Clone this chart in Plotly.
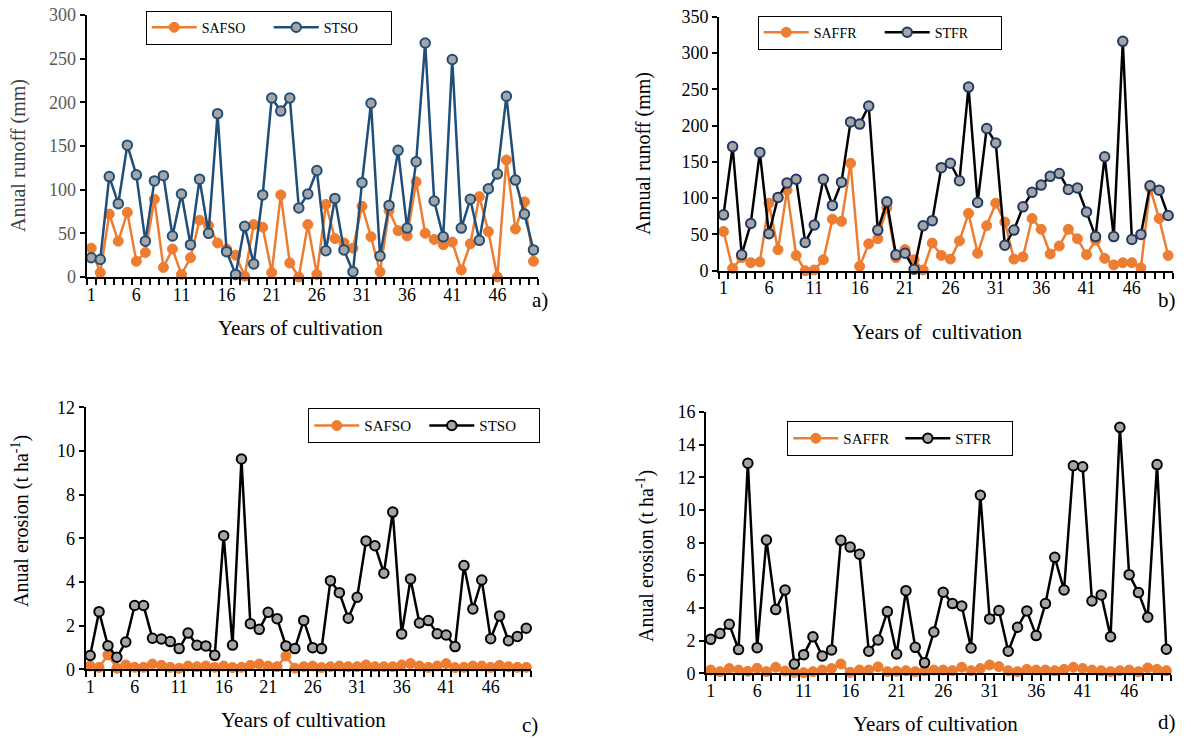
import plotly.graph_objects as go

years = list(range(1, 51))

# Panel a: annual runoff (mm)
safso_runoff = [33, 5, 72, 41, 74, 18, 28, 89, 11, 32, 3, 22, 65, 59, 39, 32, 25, 1, 60, 57,
                5, 94, 16, 0, 60, 3, 83, 44, 39, 33, 81, 46, 6, 76, 53, 47, 109, 50, 43, 37,
                40, 8, 38, 92, 52, 0, 134, 55, 86, 18]
stso_runoff = [22, 20, 115, 84, 151, 117, 41, 110, 116, 47, 95, 37, 112, 50, 187, 29, 3, 58, 15, 94,
               205, 190, 205, 79, 95, 122, 30, 90, 31, 6, 108, 199, 24, 82, 145, 56, 132, 268, 87, 46,
               249, 56, 89, 42, 101, 118, 207, 111, 72, 31]

# Panel b: annual runoff (mm)
saffr_runoff = [54, 3, 18, 11, 12, 93, 29, 111, 21, 0, 1, 15, 71, 68, 148, 6, 37, 44, 87, 18,
                29, 15, 1, 38, 21, 16, 41, 79, 24, 62, 93, 67, 16, 19, 72, 57, 23, 34, 57, 44,
                22, 42, 17, 8, 11, 11, 4, 114, 72, 21]
stfr_runoff = [77, 171, 22, 65, 163, 51, 101, 121, 126, 39, 63, 126, 90, 122, 205, 202, 227, 56, 95, 22,
               24, 2, 62, 69, 142, 148, 124, 253, 94, 196, 176, 35, 56, 88, 108, 118, 130, 134, 112, 114,
               81, 47, 157, 47, 316, 43, 50, 117, 111, 76]

# Panel c: annual erosion (t ha-1)
safso_erosion = [0.15, 0.09, 0.66, 0.05, 0.20, 0.09, 0.09, 0.24, 0.18, 0.09, 0.05, 0.15, 0.12, 0.15, 0.09,
                 0.15, 0.08, 0.09, 0.18, 0.24, 0.15, 0.12, 0.61, 0.05, 0.12, 0.15, 0.08, 0.12, 0.15, 0.12,
                 0.12, 0.20, 0.12, 0.12, 0.12, 0.20, 0.26, 0.15, 0.09, 0.15, 0.26, 0.08, 0.09, 0.15, 0.15,
                 0.09, 0.18, 0.12, 0.09, 0.09]
stso_erosion = [0.63, 2.64, 1.08, 0.55, 1.25, 2.92, 2.92, 1.42, 1.39, 1.27, 0.95, 1.66, 1.10, 1.07, 0.64,
                6.12, 1.11, 9.63, 2.09, 1.83, 2.61, 2.32, 1.07, 0.95, 2.24, 0.99, 0.95, 4.06, 3.51, 2.34,
                3.30, 5.88, 5.66, 4.40, 7.20, 1.62, 4.14, 2.12, 2.23, 1.63, 1.57, 1.04, 4.75, 2.76, 4.09,
                1.40, 2.44, 1.31, 1.50, 1.88]

# Panel d: annual erosion (t ha-1)
saffr_erosion = [0.20, 0.10, 0.29, 0.20, 0.12, 0.31, 0.10, 0.37, 0.14, 0.06, 0.04, 0.10, 0.20, 0.29, 0.57,
                 0.06, 0.20, 0.20, 0.39, 0.10, 0.12, 0.16, 0.10, 0.16, 0.20, 0.20, 0.16, 0.37, 0.16, 0.29,
                 0.51, 0.41, 0.16, 0.10, 0.24, 0.20, 0.20, 0.16, 0.24, 0.37, 0.29, 0.20, 0.16, 0.10, 0.16,
                 0.20, 0.10, 0.33, 0.24, 0.16]
stfr_erosion = [2.08, 2.43, 3.00, 1.45, 12.86, 1.57, 8.16, 3.90, 5.10, 0.57, 1.14, 2.24, 1.06, 1.43, 8.14,
                7.73, 7.29, 1.35, 2.04, 3.78, 1.18, 5.06, 1.59, 0.65, 2.53, 4.96, 4.27, 4.12, 1.55, 10.90,
                3.33, 3.84, 1.35, 2.82, 3.82, 2.31, 4.27, 7.10, 5.10, 12.71, 12.65, 4.43, 4.80, 2.24, 15.06,
                6.04, 4.94, 3.43, 12.78, 1.47]

x_label_vals = [1, 6, 11, 16, 21, 26, 31, 36, 41, 46]
x_label_text = [str(v) for v in x_label_vals]

W, H = 1191, 740
ORANGE = "#ED7D31"
BLUE = "#1F4E79"
NAVY = "#1F3864"
GRAY = "#A5A5A5"
SERIF = "Liberation Serif"


def px(x):
    return x / W


def py(y):
    return 1 - y / H


fig = go.Figure()


def add_pair(xa, ya, legend, name1, y1, name2, y2, line2, edge2):
    fig.add_trace(go.Scatter(
        x=years, y=y1, name=name1, mode="lines+markers", xaxis=xa, yaxis=ya, legend=legend,
        line=dict(color=ORANGE, width=2.5),
        marker=dict(color=ORANGE, size=10, line=dict(color=ORANGE, width=1)),
        cliponaxis=False))
    fig.add_trace(go.Scatter(
        x=years, y=y2, name=name2, mode="lines+markers", xaxis=xa, yaxis=ya, legend=legend,
        line=dict(color=line2, width=2.5),
        marker=dict(color=GRAY, size=9.5, line=dict(color=edge2, width=2)),
        cliponaxis=False))


add_pair("x", "y", "legend", "SAFSO", safso_runoff, "STSO", stso_runoff, BLUE, BLUE)
add_pair("x2", "y2", "legend2", "SAFFR", saffr_runoff, "STFR", stfr_runoff, "black", NAVY)
add_pair("x3", "y3", "legend3", "SAFSO", safso_erosion, "STSO", stso_erosion, "black", "black")
add_pair("x4", "y4", "legend4", "SAFFR", saffr_erosion, "STFR", stfr_erosion, "black", "black")

panels = {
    1: dict(x=(86.7, 538), y=(277, 15), yr=(0, 300), dt=50, col="#595959"),
    2: dict(x=(719, 1172.7), y=(270.7, 16.7), yr=(0, 350), dt=50, col="black"),
    3: dict(x=(85.7, 530.7), y=(669.3, 407.3), yr=(0, 12), dt=2, col="black"),
    4: dict(x=(706, 1171), y=(673.3, 412), yr=(0, 16), dt=2, col="black"),
}

layout = dict(width=W, height=H, margin=dict(l=0, r=0, t=0, b=0, pad=0), autosize=False,
              paper_bgcolor="white", plot_bgcolor="white", showlegend=True,
              font=dict(family=SERIF, color="black"))

for i, p in panels.items():
    sx = "" if i == 1 else str(i)
    layout["xaxis" + sx] = dict(
        domain=[px(p["x"][0]), px(p["x"][1])], range=[0.5, 50.5], anchor="y" + sx,
        tickmode="array", tickvals=x_label_vals, ticktext=x_label_text, ticks="",
        showgrid=False, zeroline=False, showline=True, linecolor="black", linewidth=2,
        automargin=False,
        tickfont=dict(family=SERIF, size=18, color="black"),
        minor=dict(tickmode="linear", tick0=0.5, dtick=1, ticks="outside", ticklen=6,
                   tickwidth=1.5, tickcolor="black", showgrid=False))
    layout["yaxis" + sx] = dict(
        domain=[py(p["y"][0]), py(p["y"][1])], range=list(p["yr"]), anchor="x" + sx,
        dtick=p["dt"], ticks="outside", ticklen=5, tickwidth=1.5, tickcolor="black",
        showgrid=False, zeroline=False, showline=True, linecolor="black", linewidth=2,
        automargin=False,
        tickfont=dict(family=SERIF, size=18, color=p["col"]))

legend_boxes = {
    "legend": (145.7, 10.7, 14, 62),
    "legend2": (757.7, 15.7, 14, 61),
    "legend3": (308.3, 408.3, 15, 55),
    "legend4": (787.3, 421, 15, 52),
}
for key, (lx, ly, fs, ew) in legend_boxes.items():
    layout[key] = dict(x=px(lx), y=py(ly), xanchor="left", yanchor="top", orientation="h",
                       bgcolor="white", bordercolor="black", borderwidth=1,
                       font=dict(family=SERIF, size=fs, color="black"),
                       itemwidth=45, entrywidth=ew, entrywidthmode="pixels", tracegroupgap=0)

fig.update_layout(**layout)

annos = [
    # y-axis titles
    dict(text="Anual runoff (mm)", x=18, y=156, color="#404040"),
    dict(text="Annual runoff (mm)", x=643, y=154, color="black"),
    dict(text="Anual erosion (t ha<sup>-1</sup>)", x=20, y=521, color="black"),
    dict(text="Anual erosion (t ha<sup>-1</sup>)", x=645, y=556, color="black"),
]
for a in annos:
    fig.add_annotation(text=a["text"], x=px(a["x"]), y=py(a["y"]), xref="paper", yref="paper",
                       textangle=-90, showarrow=False, xanchor="center", yanchor="middle",
                       font=dict(family=SERIF, size=20, color=a["color"]))

xtitles = [
    ("Years of cultivation", 300, 328),
    ("Years of&nbsp; cultivation", 937, 332),
    ("Years of cultivation", 303, 720),
    ("Years of cultivation", 935, 724),
]
for t, x, y in xtitles:
    fig.add_annotation(text=t, x=px(x), y=py(y), xref="paper", yref="paper",
                       showarrow=False, xanchor="center", yanchor="middle",
                       font=dict(family=SERIF, size=21, color="black"))

letters = [("a)", 540, 300), ("b)", 1167, 300), ("c)", 530, 725), ("d)", 1167, 722)]
for t, x, y in letters:
    fig.add_annotation(text=t, x=px(x), y=py(y), xref="paper", yref="paper",
                       showarrow=False, xanchor="center", yanchor="middle",
                       font=dict(family=SERIF, size=21, color="black"))

fig.write_html("out.html", config={"displayModeBar": False},
               post_script="document.body.style.margin='0';document.body.style.overflow='hidden';")
